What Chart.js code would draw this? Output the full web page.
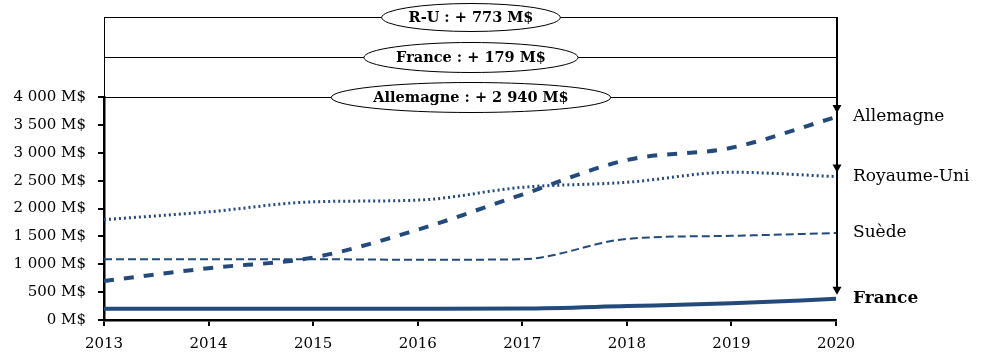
<!DOCTYPE html>
<html>
<head>
<meta charset="utf-8">
<script src="https://cdn.jsdelivr.net/npm/chart.js@4.4.0/dist/chart.umd.min.js"></script>
<style>
html,body{margin:0;padding:0;background:#fff;}
canvas{display:block;}
</style>
</head>
<body>
<canvas id="c" width="983" height="359"></canvas>
<script>
// ---- data ----
const years = ['2013','2014','2015','2016','2017','2018','2019','2020'];
const allemagne  = [700, 930, 1120, 1620, 2250, 2870, 3090, 3640];
const royaumeUni = [1800, 1940, 2120, 2150, 2380, 2470, 2650, 2573];
const suede      = [1090, 1090, 1090, 1080, 1090, 1455, 1510, 1560];
const france     = [200, 200, 200, 200, 205, 250, 300, 379];
const seriesNames = ['Allemagne', 'Royaume-Uni', 'Suède', 'France'];
const yTicks = [0, 500, 1000, 1500, 2000, 2500, 3000, 3500, 4000];
// annotation rows (top to bottom) and the series each points to
const rowLabels = ['R-U : + 773 M$', 'France : + 179 M$', 'Allemagne : + 2 940 M$'];
const rowTargets = [royaumeUni, france, allemagne];

const BLUE = '#244a7c';
const FONT = "'DejaVu Serif', serif";

function fmt(v){
  return String(v).replace(/\B(?=(\d{3})+(?!\d))/g, ' ') + ' M$';
}

const annot = {
  id: 'annot',
  afterDraw(chart){
    const {ctx, chartArea: ca, scales: {x, y}} = chart;
    const last = years.length - 1;
    const xr = x.getPixelForValue(last);
    const gap = 40;
    const rowY = i => ca.top - gap * (rowLabels.length - 1 - i);
    ctx.save();
    ctx.strokeStyle = '#000';
    ctx.fillStyle = '#000';
    ctx.lineWidth = 1;
    ctx.beginPath();
    ctx.moveTo(ca.left + 0.5, rowY(0));
    ctx.lineTo(ca.left + 0.5, ca.top);
    ctx.stroke();
    rowLabels.forEach((lab, i) => {
      const yy = Math.round(rowY(i)) + 0.5;
      ctx.lineWidth = 1.2;
      ctx.beginPath();
      ctx.moveTo(ca.left, yy);
      ctx.lineTo(xr, yy);
      ctx.stroke();
    });
    const tips = rowTargets.map(s => y.getPixelForValue(s[last]) - 4);
    const lowest = Math.max(...tips);
    ctx.lineWidth = 2;
    ctx.beginPath();
    ctx.moveTo(xr + 1, rowY(0));
    ctx.lineTo(xr + 1, lowest - 3);
    ctx.stroke();
    tips.forEach(t => {
      ctx.beginPath();
      ctx.moveTo(xr + 1, t);
      ctx.lineTo(xr - 3.5, t - 8);
      ctx.lineTo(xr + 5.5, t - 8);
      ctx.closePath();
      ctx.fill();
    });
    const cx = (ca.left + ca.right) / 2 + 1;
    ctx.font = "bold 14.5px " + FONT;
    ctx.textAlign = 'center';
    ctx.textBaseline = 'middle';
    rowLabels.forEach((lab, i) => {
      const yy = rowY(i) + 0.5;
      const tw = ctx.measureText(lab).width;
      ctx.beginPath();
      ctx.ellipse(cx, yy, tw * 0.715, i === 0 ? 14 : 15, 0, 0, Math.PI * 2);
      ctx.fillStyle = '#fff';
      ctx.fill();
      ctx.lineWidth = 1;
      ctx.strokeStyle = '#000';
      ctx.stroke();
      ctx.fillStyle = '#000';
      ctx.fillText(lab, cx, yy + 1);
    });
    ctx.textAlign = 'left';
    chart.data.datasets.forEach((ds) => {
      ctx.font = (ds.label === 'France' ? 'bold ' : '') + '17px ' + FONT;
      ctx.fillStyle = '#000';
      ctx.fillText(ds.label, ca.right + 17, y.getPixelForValue(ds.data[last]));
    });
    ctx.restore();
  }
};

const common = {pointRadius: 0, fill: false, borderColor: BLUE, cubicInterpolationMode: 'monotone'};

new Chart(document.getElementById('c'), {
  type: 'line',
  data: {
    labels: years,
    datasets: [
      Object.assign({label: seriesNames[0], data: allemagne, borderWidth: 4, borderDash: [10, 10]}, common),
      Object.assign({label: seriesNames[1], data: royaumeUni, borderWidth: 3, borderDash: [2, 3]}, common),
      Object.assign({label: seriesNames[2], data: suede, borderWidth: 2, borderDash: [8, 4]}, common),
      Object.assign({label: seriesNames[3], data: france, borderWidth: 4}, common)
    ]
  },
  options: {
    responsive: false,
    devicePixelRatio: 1,
    animation: false,
    layout: {padding: {top: 97, right: 147, left: 0, bottom: 0}},
    plugins: {legend: {display: false}, tooltip: {enabled: false}},
    scales: {
      x: {
        offset: false,
        afterFit(s){ s.height = 39; },
        grid: {drawOnChartArea: false, drawTicks: true, tickLength: 6, color: '#000', lineWidth: 2},
        border: {color: '#000', width: 2.5},
        ticks: {color: '#000', font: {family: FONT, size: 15}, padding: 9, maxRotation: 0, autoSkip: false}
      },
      y: {
        min: 0, max: 4000,
        afterFit(s){ s.width = 104; },
        afterBuildTicks(s){ s.ticks = yTicks.map(v => ({value: v})); },
        grid: {drawOnChartArea: false, drawTicks: true, tickLength: 6, color: '#000', lineWidth: 2},
        border: {color: '#000', width: 2.5},
        ticks: {color: '#000', font: {family: FONT, size: 15}, padding: 12, callback: v => fmt(v)}
      }
    }
  },
  plugins: [annot]
});
</script>
</body>
</html>
